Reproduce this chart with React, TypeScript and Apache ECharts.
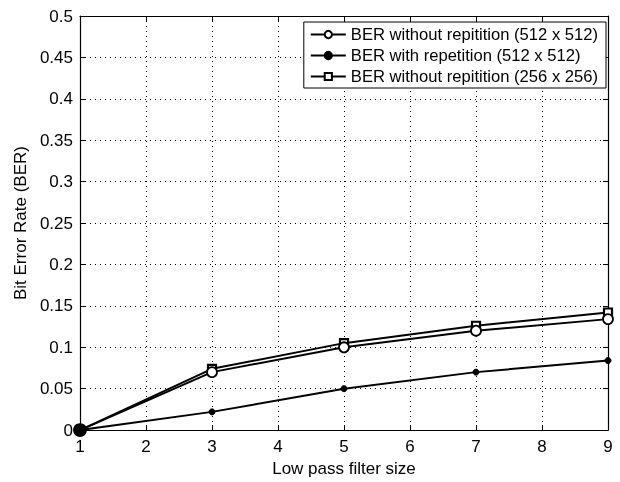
import React, { useEffect, useRef } from "react";
import * as echarts from "echarts";

const xValues = [1, 3, 5, 7, 9];
const berNoRep512 = [0, 0.07, 0.1, 0.12, 0.134];
const berRep512 = [0, 0.022, 0.05, 0.07, 0.084];
const berNoRep256 = [0, 0.074, 0.105, 0.126, 0.142];
const seriesNames = [
  "BER without repitition (512 x 512)",
  "BER with repetition (512 x 512)",
  "BER without repitition (256 x 256)",
];

const FONT = "Liberation Sans, Arial, Helvetica, sans-serif";

export default function App() {
  const ref = useRef<HTMLDivElement>(null);
  useEffect(() => {
    if (!ref.current) return;
    const chart = echarts.init(ref.current, null, { renderer: "svg" });
    const pair = (arr: number[], firstBlack = false) =>
      xValues.map((x, i) =>
        firstBlack && i === 0
          ? { value: [x, arr[i]], symbolSize: 12, itemStyle: { color: "#000" } }
          : [x, arr[i]]
      );
    const lineStyle = { color: "#000", width: 2 };
    const axisCommon = {
      axisLine: { show: true, onZero: false, lineStyle: { color: "#000", width: 1.2 } },
      axisTick: { show: true, inside: true, length: 5, lineStyle: { color: "#000" } },
    };
    const labelFont = { fontSize: 17, color: "#000", fontFamily: FONT };
    chart.setOption({
      animation: false,
      textStyle: { fontFamily: FONT },
      grid: { left: 80, right: 12, top: 16, bottom: 47, containLabel: false },
      legend: {
        right: 14,
        top: 22,
        orient: "vertical",
        backgroundColor: "#fff",
        borderColor: "#000",
        borderWidth: 1,
        borderRadius: 0,
        padding: [4, 8, 3, 6],
        itemGap: 4,
        itemWidth: 35,
        itemHeight: 9,
        textStyle: { fontSize: 16.6, color: "#000", fontFamily: FONT, lineHeight: 17 },
        data: seriesNames,
      },
      xAxis: [
        {
          type: "value",
          min: 1,
          max: 9,
          interval: 1,
          name: "Low pass filter size",
          nameLocation: "middle",
          nameGap: 29,
          nameTextStyle: labelFont,
          axisLabel: { ...labelFont, margin: 8 },
          splitLine: { show: true, lineStyle: { color: "#000", type: [1, 4], width: 1 } },
          ...axisCommon,
        },
        {
          type: "value",
          position: "top",
          min: 1,
          max: 9,
          interval: 1,
          axisLabel: { show: false },
          splitLine: { show: false },
          ...axisCommon,
        },
      ],
      yAxis: [
        {
          type: "value",
          min: 0,
          max: 0.5,
          interval: 0.05,
          name: "Bit Error Rate (BER)",
          nameLocation: "middle",
          nameGap: 47,
          nameTextStyle: labelFont,
          axisLabel: { ...labelFont, margin: 7 },
          splitLine: { show: true, lineStyle: { color: "#000", type: [1, 4], width: 1 } },
          ...axisCommon,
        },
        {
          type: "value",
          position: "right",
          min: 0,
          max: 0.5,
          interval: 0.05,
          axisLabel: { show: false },
          splitLine: { show: false },
          ...axisCommon,
        },
      ],
      series: [
        {
          name: seriesNames[0],
          type: "line",
          data: pair(berNoRep512, true),
          symbol: "circle",
          symbolSize: 10,
          itemStyle: { color: "#fff", borderColor: "#000", borderWidth: 1.8 },
          lineStyle,
          z: 3,
        },
        {
          name: seriesNames[1],
          type: "line",
          data: pair(berRep512),
          symbol: "circle",
          symbolSize: 6,
          itemStyle: { color: "#000", borderColor: "#000", borderWidth: 1 },
          lineStyle,
          z: 4,
        },
        {
          name: seriesNames[2],
          type: "line",
          data: pair(berNoRep256),
          symbol: "rect",
          symbolSize: 8,
          itemStyle: { color: "#fff", borderColor: "#000", borderWidth: 2.2 },
          lineStyle,
          z: 2,
        },
      ],
    });
    return () => chart.dispose();
  }, []);
  return (
    <div
      ref={ref}
      style={{ position: "fixed", left: 0, top: 0, width: 620, height: 482 }}
    />
  );
}
